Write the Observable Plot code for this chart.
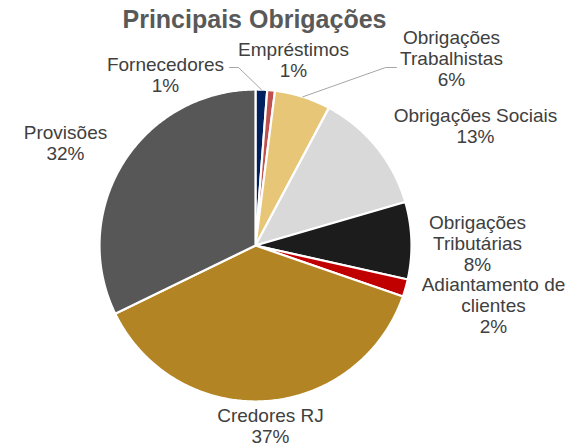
<!DOCTYPE html>
<html>
<head>
<meta charset="utf-8">
<script src="https://cdn.jsdelivr.net/npm/d3@7"></script>
<script src="https://cdn.jsdelivr.net/npm/@observablehq/plot@0.6"></script>
<style>
  body { margin: 0; background: #ffffff; }
  #chart svg { display: block; }
</style>
</head>
<body>
<div id="chart"></div>
<script>
// ---- data ----
const title = "Principais Obrigações";
const categories = ["Fornecedores", "Empréstimos", "Obrigações Trabalhistas", "Obrigações Sociais",
  "Obrigações Tributárias", "Adiantamento de clientes", "Credores RJ", "Provisões"];
const labelNames = ["Fornecedores", "Empréstimos", "Obrigações\nTrabalhistas", "Obrigações Sociais",
  "Obrigações\nTributárias", "Adiantamento de\nclientes", "Credores RJ", "Provisões"];
const values = [1.2, 0.8, 5.8, 12.7, 8.0, 1.8, 37.5, 32.2];
const pctLabels = ["1%", "1%", "6%", "13%", "8%", "2%", "37%", "32%"];
const colors = ["#002060", "#C0504D", "#E7C677", "#D9D9D9", "#1C1C1C", "#C00000", "#B38424", "#575757"];

// ---- layout (pixels) ----
const W = 570, H = 447;
const cx = 255, cy = 245, R = 156;
const labelPos = [[165, 55], [293, 40], [451, 28], [475, 106], [477, 213], [493, 275], [270, 406], [65, 123]];
const leaderAnchors = {0: [[229, 67], [238, 67]], 2: [[396, 67], [385, 67]]};

// ---- geometry from values ----
const arcs = d3.pie().sort(null).value(d => d)(values);
const pt = (a, r) => [cx + r * Math.sin(a), cy - r * Math.cos(a)];
const slices = [];
arcs.forEach((a, i) => {
  const cat = categories[i];
  const c = pt(0, 0);
  slices.push({cat, x: c[0], y: c[1]});
  const n = Math.max(2, Math.ceil((a.endAngle - a.startAngle) / 0.01));
  for (let k = 0; k <= n; k++) {
    const ang = a.startAngle + (a.endAngle - a.startAngle) * k / n;
    const p = pt(ang, R);
    slices.push({cat, x: p[0], y: p[1]});
  }
  slices.push({cat, x: c[0], y: c[1]});
});

const leaders = [];
Object.entries(leaderAnchors).forEach(([i, pts]) => {
  const a = arcs[+i];
  const mid = (a.startAngle + a.endAngle) / 2;
  const p = pt(mid, R);
  pts.forEach(q => leaders.push({id: i, x: q[0], y: q[1]}));
  leaders.push({id: i, x: p[0], y: p[1]});
});

const labels = categories.map((c, i) => ({
  x: labelPos[i][0], y: labelPos[i][1], text: labelNames[i] + "\n" + pctLabels[i]
}));

const chart = Plot.plot({
  width: W,
  height: H,
  margin: 0,
  style: {background: "#ffffff", fontFamily: "'Liberation Sans', Arial, sans-serif"},
  x: {domain: [0, W], range: [0, W], axis: null},
  y: {domain: [0, H], range: [0, H], axis: null},
  color: {domain: categories, range: colors},
  marks: [
    Plot.line(slices, {x: "x", y: "y", z: "cat", fill: "cat", stroke: "#ffffff", strokeWidth: 2.2, strokeLinejoin: "round", curve: "linear"}),
    Plot.line(leaders, {x: "x", y: "y", z: "id", stroke: "#A6A6A6", strokeWidth: 1}),
    Plot.text(labels, {x: "x", y: "y", text: "text", lineAnchor: "top", textAnchor: "middle", fontSize: 19, lineHeight: 1.12, fill: "#404040"}),
    Plot.text([title], {x: () => 254, y: () => 10, text: d => d, lineAnchor: "top", textAnchor: "middle", fontSize: 25, fontWeight: "bold", fill: "#595959"})
  ]
});
document.getElementById("chart").appendChild(chart);
</script>
</body>
</html>
